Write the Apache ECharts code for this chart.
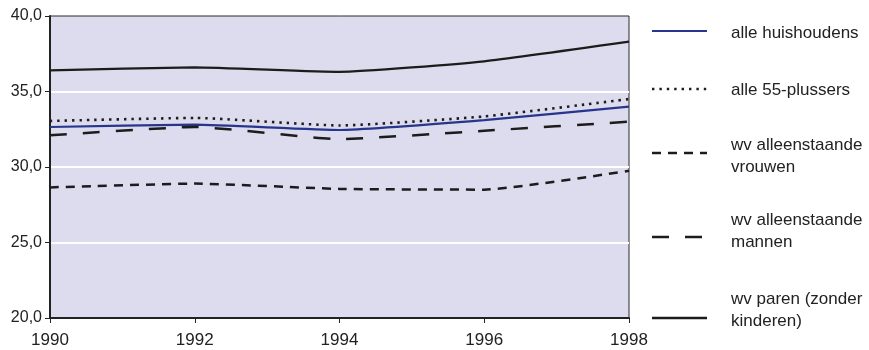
<!DOCTYPE html>
<html>
<head>
<meta charset="utf-8">
<script src="https://cdn.jsdelivr.net/npm/echarts@6/dist/echarts.min.js"></script>
<style>
html,body{margin:0;padding:0;background:#fff;}
#chart{width:869px;height:350px;}
</style>
</head>
<body>
<div id="chart"></div>
<script>
// ---- data ----
var years = ['1990', '1992', '1994', '1996', '1998'];
var alleHuishoudens = [32.65, 32.8, 32.45, 33.1, 34.0];
var alle55plussers = [33.05, 33.25, 32.75, 33.35, 34.5];
var wvVrouwen = [28.65, 28.9, 28.55, 28.5, 29.75];
var wvMannen = [32.1, 32.65, 31.85, 32.4, 33.0];
var wvParen = [36.4, 36.6, 36.3, 37.0, 38.3];
var yTicks = [20, 25, 30, 35, 40];
var seriesNames = ['alle huishoudens', 'alle 55-plussers', 'wv alleenstaande\nvrouwen', 'wv alleenstaande\nmannen', 'wv paren (zonder\nkinderen)'];

var FONT = "'Liberation Sans Narrow', 'Liberation Sans', Arial, sans-serif";
var BLUE = '#27358c';
var BLACK = '#1c1c1c';

var styles = [
  {color: BLUE, width: 2.2, type: 'solid'},
  {color: BLACK, width: 2.6, type: [2.4, 5]},
  {color: BLACK, width: 2.5, type: [9, 7]},
  {color: BLACK, width: 2.5, type: [17, 16]},
  {color: BLACK, width: 2.3, type: 'solid'}
];
var dataSets = [alleHuishoudens, alle55plussers, wvVrouwen, wvMannen, wvParen];

var chart = echarts.init(document.getElementById('chart'), null, {renderer: 'canvas'});

var series = dataSets.map(function (d, i) {
  return {
    name: seriesNames[i],
    type: 'line',
    data: d,
    symbol: 'none',
    smooth: 0.15,
    lineStyle: styles[i],
    z: 3
  };
});

// legend drawn as graphic (line samples + text)
var legendLineY = [31, 89, 153, 237, 318];
var legendTextY = [33, 90, 156, 231, 310];
var graphics = [];
for (var i = 0; i < 5; i++) {
  var s = styles[i];
  graphics.push({
    type: 'line',
    shape: {x1: 652, y1: legendLineY[i], x2: 707, y2: legendLineY[i]},
    style: {stroke: s.color, lineWidth: s.width, lineDash: s.type === 'solid' ? null : s.type}
  });
  graphics.push({
    type: 'text',
    x: 731,
    y: legendTextY[i],
    style: {
      text: seriesNames[i],
      font: '17px ' + FONT,
      fill: '#222',
      textVerticalAlign: 'middle',
      verticalAlign: 'middle',
      lineHeight: 22
    }
  });
}

chart.setOption({
  animation: false,
  backgroundColor: '#ffffff',
  grid: {
    left: 50, right: 240, top: 16, bottom: 32,
    show: true,
    backgroundColor: '#dcdcee',
    borderColor: '#2a2a2a',
    borderWidth: 1
  },
  xAxis: {
    type: 'category',
    data: years,
    boundaryGap: false,
    axisLine: {show: true, lineStyle: {color: '#222', width: 2}},
    axisTick: {show: true, length: 5, alignWithLabel: true, lineStyle: {color: '#222', width: 1}},
    axisLabel: {color: '#222', fontSize: 17, fontFamily: FONT, margin: 14},
    splitLine: {show: false}
  },
  yAxis: {
    type: 'value',
    min: 20, max: 40, interval: 5,
    axisLine: {show: true, lineStyle: {color: '#222', width: 2}},
    axisTick: {show: true, length: 5, lineStyle: {color: '#222', width: 1}},
    axisLabel: {
      color: '#222', fontSize: 16, fontFamily: FONT, margin: 8,
      formatter: function (v) { return v.toFixed(1).replace('.', ','); }
    },
    splitLine: {show: true, lineStyle: {color: ['rgba(0,0,0,0)', '#ffffff', '#ffffff', '#ffffff', 'rgba(0,0,0,0)'], width: 2}}
  },
  series: series,
  graphic: graphics
});
</script>
</body>
</html>
